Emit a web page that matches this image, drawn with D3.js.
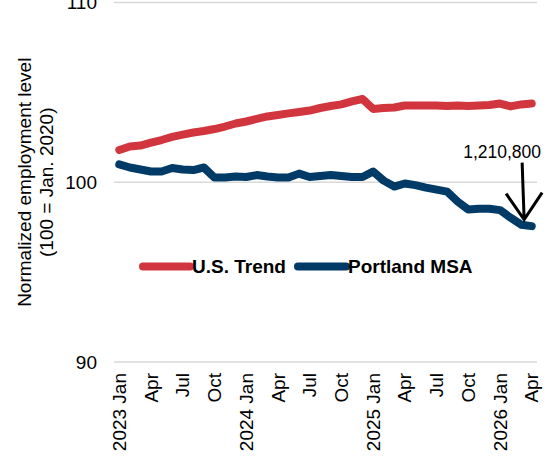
<!doctype html>
<html>
<head>
<meta charset="utf-8">
<script src="https://cdn.jsdelivr.net/npm/d3@7"></script>
<style>
  body { margin: 0; background: #fff; }
  text { font-family: Arial, "Liberation Sans", sans-serif; fill: #000; }
</style>
</head>
<body>
<script>
  // monthly categories, Jan 2023 .. Apr 2026
  var monthNames = ['Jan','Feb','Mar','Apr','May','Jun','Jul','Aug','Sep','Oct','Nov','Dec'];
  var months = d3.range(0, 40).map(function (i) {
    return (2023 + Math.floor(i / 12)) + ' ' + monthNames[i % 12];
  });

  var usTrend = [101.79, 101.99, 102.04, 102.2, 102.35, 102.52, 102.65, 102.77, 102.85, 102.96,
                 103.1, 103.27, 103.38, 103.52, 103.66, 103.74, 103.83, 103.91, 103.99, 104.13,
                 104.24, 104.33, 104.5, 104.63, 104.08, 104.13, 104.16, 104.27, 104.27, 104.27,
                 104.27, 104.24, 104.27, 104.24, 104.27, 104.3, 104.38, 104.22, 104.33, 104.38];

  var portland = [100.99, 100.82, 100.71, 100.6, 100.6, 100.79, 100.71, 100.68, 100.82, 100.26,
                  100.26, 100.32, 100.29, 100.4, 100.32, 100.26, 100.26, 100.48, 100.29, 100.35,
                  100.4, 100.35, 100.29, 100.29, 100.6, 100.09, 99.76, 99.93, 99.84, 99.7,
                  99.59, 99.48, 98.92, 98.48, 98.53, 98.53, 98.45, 98.03, 97.64, 97.56];

  var yTicks = [90, 100, 110];
  var seriesNames = ['U.S. Trend', 'Portland MSA'];
  var colors = ['#d1363f', '#003a66'];
  var annotation = { index: 38, label: '1,210,800' };

  var width = 557, height = 459;
  var plotLeft = 114, plotRight = 537, plotTop = 2.5, plotBottom = 362;

  var svg = d3.select('body').append('svg')
      .attr('width', width)
      .attr('height', height);

  var x = d3.scalePoint().domain(months).range([plotLeft, plotRight]).padding(0.5);
  var y = d3.scaleLinear().domain([90, 110]).range([plotBottom, plotTop]);

  // gridlines
  svg.selectAll('line.grid')
      .data(yTicks)
    .enter().append('line')
      .attr('class', 'grid')
      .attr('x1', plotLeft).attr('x2', plotRight)
      .attr('y1', function (d) { return y(d); })
      .attr('y2', function (d) { return y(d); })
      .attr('stroke', '#d9d9d9')
      .attr('stroke-width', 1.5);

  // y tick labels
  svg.selectAll('text.ytick')
      .data(yTicks)
    .enter().append('text')
      .attr('class', 'ytick')
      .attr('x', plotLeft - 17)
      .attr('y', function (d) { return y(d); })
      .attr('dy', '0.35em')
      .attr('text-anchor', 'end')
      .style('font-size', '19px')
      .text(function (d) { return d; });

  // x tick labels, every quarter
  var quarterly = months.filter(function (d, i) { return i % 3 === 0; });
  svg.selectAll('text.xtick')
      .data(quarterly)
    .enter().append('text')
      .attr('class', 'xtick')
      .attr('transform', function (d) { return 'translate(' + x(d) + ',' + (plotBottom + 11) + ') rotate(-90)'; })
      .attr('dy', '0.35em')
      .attr('text-anchor', 'end')
      .style('font-size', '19px')
      .text(function (d) { return d.slice(5) === 'Jan' ? d : d.slice(5); });

  // y axis title
  var title = svg.append('text')
      .attr('transform', 'translate(0,' + ((plotTop + plotBottom) / 2) + ') rotate(-90)')
      .attr('text-anchor', 'middle')
      .style('font-size', '19px');
  title.append('tspan').attr('x', 0).attr('y', 31).text('Normalized employment level');
  title.append('tspan').attr('x', 0).attr('y', 53).text('(100 = Jan. 2020)');

  // lines
  var line = d3.line()
      .x(function (d, i) { return x(months[i]); })
      .y(function (d) { return y(d); });

  svg.selectAll('path.series')
      .data([usTrend, portland])
    .enter().append('path')
      .attr('class', 'series')
      .attr('d', line)
      .attr('fill', 'none')
      .attr('stroke', function (d, i) { return colors[i]; })
      .attr('stroke-width', 8)
      .attr('stroke-linejoin', 'round')
      .attr('stroke-linecap', 'round');

  // legend
  var legendY = 266.5;
  var legendItems = [{x1: 143, x2: 190}, {x1: 298, x2: 346}];
  legendItems.forEach(function (it, i) {
    svg.append('line')
        .attr('x1', it.x1).attr('x2', it.x2)
        .attr('y1', legendY).attr('y2', legendY)
        .attr('stroke', colors[i])
        .attr('stroke-width', 8)
        .attr('stroke-linecap', 'round');
    svg.append('text')
        .attr('x', it.x2 + 2)
        .attr('y', legendY)
        .attr('dy', '0.35em')
        .style('font-size', '19px')
        .style('font-weight', 'bold')
        .text(seriesNames[i]);
  });

  // annotation arrow for the latest Portland figure
  var tipX = x(months[annotation.index]) + 3,
      tipY = y(portland[annotation.index]) - 5;
  svg.append('path')
      .attr('d', 'M' + (tipX - 2) + ',' + (tipY - 57) + 'L' + tipX + ',' + tipY +
                 'M' + (tipX - 18) + ',' + (tipY - 26) + 'L' + tipX + ',' + tipY +
                 'L' + (tipX + 18) + ',' + (tipY - 27))
      .attr('fill', 'none')
      .attr('stroke', '#000')
      .attr('stroke-width', 3);
  svg.append('text')
      .attr('x', tipX - 22)
      .attr('y', tipY - 62)
      .attr('text-anchor', 'middle')
      .style('font-size', '17.5px')
      .text(annotation.label);
</script>
</body>
</html>
